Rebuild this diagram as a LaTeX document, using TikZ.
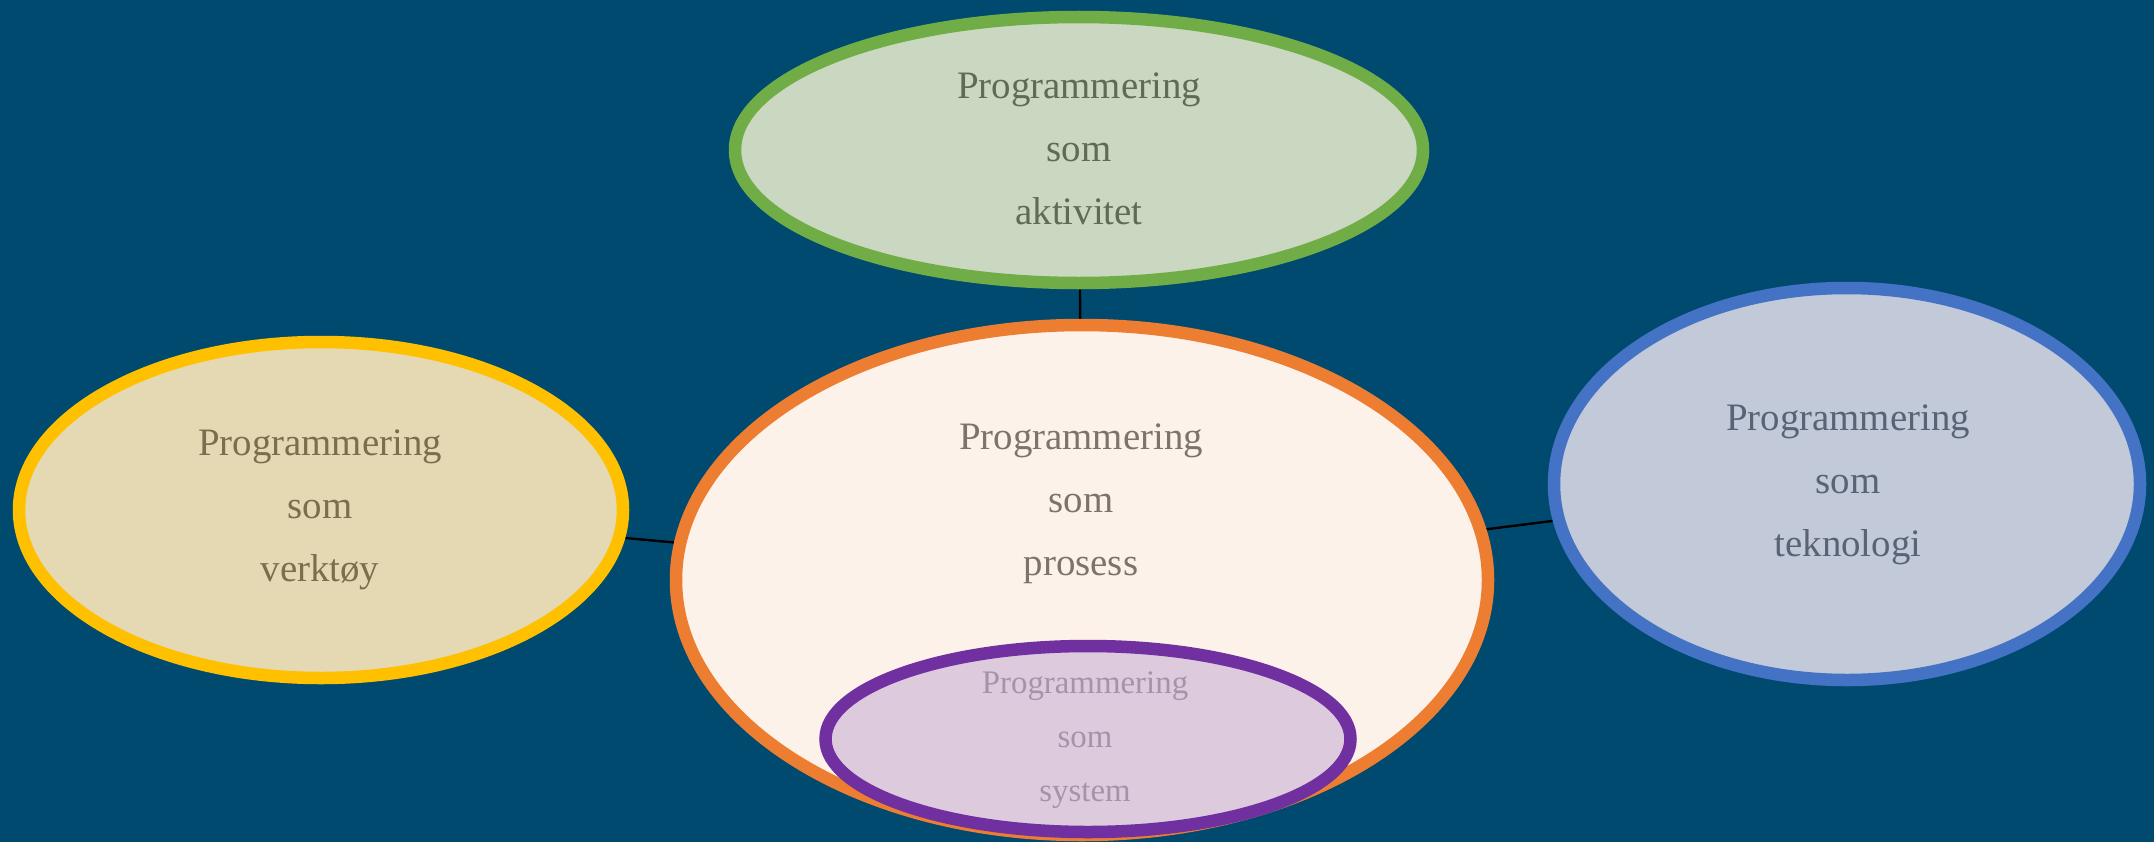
\documentclass[tikz,border=0pt]{standalone}
\usepackage{fontspec}
\setmainfont{Liberation Serif}
\usetikzlibrary{shapes.geometric}
\pgfdeclarelayer{background}
\pgfsetlayers{background,main}
\definecolor{bg}{HTML}{004A70}
\definecolor{gBorder}{HTML}{70AD47}
\definecolor{gFill}{HTML}{CAD7C1}
\definecolor{gText}{HTML}{5E6B55}
\definecolor{yBorder}{HTML}{FFC000}
\definecolor{yFill}{HTML}{E5D9B3}
\definecolor{yText}{HTML}{7A6E4E}
\definecolor{oBorder}{HTML}{ED7D31}
\definecolor{oFill}{HTML}{FDF2E9}
\definecolor{oText}{HTML}{7B746E}
\definecolor{bBorder}{HTML}{4472C4}
\definecolor{bFill}{HTML}{C2C9D8}
\definecolor{bText}{HTML}{5A6376}
\definecolor{pBorder}{HTML}{7030A0}
\definecolor{pFill}{HTML}{DDCADD}
\definecolor{pText}{HTML}{A593A9}
\begin{document}
\begin{tikzpicture}[x=1bp,y=-1bp,
  oval/.style={ellipse, draw, line width=12.5bp, inner sep=0pt, outer sep=0pt},
  lbl/.style={align=center, inner sep=0pt, font=\fontsize{39}{63}\selectfont},
  smalllbl/.style={align=center, inner sep=0pt, font=\fontsize{33}{54}\selectfont},
  link/.style={black, line width=2.4bp}]
\begin{pgfonlayer}{background}
\fill[bg] (0,0) rectangle (2154,842);
\end{pgfonlayer}
\useasboundingbox (0,0) rectangle (2154,842);

\node[oval, draw=gBorder, fill=gFill, minimum width=688bp, minimum height=266bp] (g) at (1079,150) {};
\node[oval, draw=yBorder, fill=yFill, minimum width=604bp, minimum height=336bp] (y) at (321,510) {};
\node[oval, draw=oBorder, fill=oFill, minimum width=812bp, minimum height=510bp] (o) at (1082,580) {};
\node[oval, draw=bBorder, fill=bFill, minimum width=586bp, minimum height=392bp] (b) at (1847,484) {};
\node[oval, draw=pBorder, fill=pFill, minimum width=525bp, minimum height=186bp] (p) at (1088,739) {};

\node[lbl, text=gText] (gt) at (1079,149) {Programmering\\som\\aktivitet};
\node[lbl, text=yText] (yt) at (320,510) {Programmering\\som\\verktøy};
\node[lbl, text=oText] (ot) at (1081,504) {Programmering\\som\\prosess};
\node[lbl, text=bText] (bt) at (1848,485) {Programmering\\som\\teknologi};
\node[smalllbl, text=pText] (pt) at (1085,740) {Programmering\\som\\system};

\begin{pgfonlayer}{background}
\draw[link] (g.center) -- (o.center);
\draw[link] (y.center) -- (o.center);
\draw[link] (o.center) -- (b.center);
\end{pgfonlayer}
\end{tikzpicture}
\end{document}
